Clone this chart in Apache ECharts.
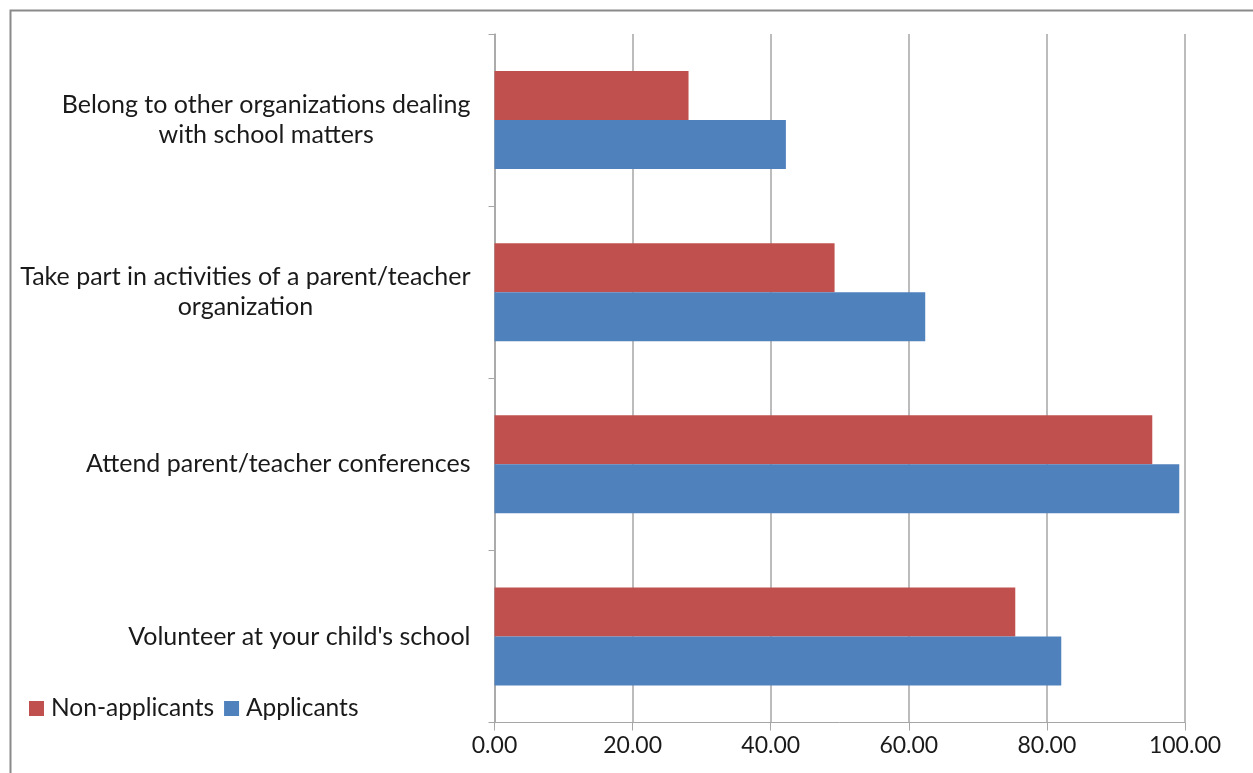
<!DOCTYPE html>
<html>
<head>
<meta charset="utf-8">
<script src="https://cdn.jsdelivr.net/npm/echarts@6/dist/echarts.min.js"></script>
<style>
  html, body { margin: 0; padding: 0; background: #fff; }
  #chart { width: 1253px; height: 773px; }
</style>
</head>
<body>
<div id="chart"></div>
<script>
// Survey activities, listed bottom to top along the category axis
const categories = [
  "Volunteer at your child's school",
  'Attend parent/teacher conferences',
  'Take part in activities of a parent/teacher\norganization',
  'Belong to other organizations dealing\nwith school matters'
];
const nonApplicants = [75.42, 95.26, 49.25, 28.1];
const applicants = [82.08, 99.17, 62.38, 42.2];
const seriesNames = ['Non-applicants', 'Applicants'];

const FONT = 'Lato';
const chart = echarts.init(document.getElementById('chart'), null, { renderer: 'canvas' });

chart.setOption({
  animation: false,
  backgroundColor: '#ffffff',
  graphic: [{
    type: 'rect',
    left: 8, top: 8,
    shape: { width: 1400, height: 900 },
    style: { fill: 'none', stroke: '#8a8a8a', lineWidth: 2 },
    silent: true
  }],
  grid: { left: 494.5, right: 68, top: 34, bottom: 50.5, containLabel: false },
  legend: {
    data: seriesNames,
    left: 24, top: 691,
    itemWidth: 15, itemHeight: 15, itemGap: 10,
    icon: 'rect',
    textStyle: { fontFamily: FONT, fontSize: 24.5, color: '#1a1a1a', padding: [0, 0, 0, 2] }
  },
  xAxis: {
    type: 'value',
    min: 0, max: 100, interval: 20,
    axisLine: { show: true, lineStyle: { color: '#a6a6a6', width: 1 } },
    axisTick: { show: true, length: 8, lineStyle: { color: '#a6a6a6' } },
    splitLine: { show: true, lineStyle: { color: '#a6a6a6', width: 1.5 } },
    axisLabel: {
      fontFamily: FONT, fontSize: 23, color: '#1a1a1a', margin: 12,
      formatter: v => v.toFixed(2)
    }
  },
  yAxis: {
    type: 'category',
    data: categories,
    axisLine: { show: true, lineStyle: { color: '#a6a6a6', width: 1.5 } },
    axisTick: { show: true, length: 6, lineStyle: { color: '#a6a6a6' } },
    axisLabel: {
      margin: 24,
      formatter: v => v.split('\n').map(s => '{c|' + s + '}').join('\n'),
      rich: {
        c: { fontFamily: FONT, fontSize: 25, color: '#1a1a1a', align: 'center', lineHeight: 30 }
      }
    }
  },
  series: [
    {
      name: 'Non-applicants', type: 'bar', data: nonApplicants,
      barGap: '0%', barCategoryGap: '43%',
      itemStyle: { color: '#c0504d' }
    },
    {
      name: 'Applicants', type: 'bar', data: applicants,
      barGap: '0%', barCategoryGap: '43%',
      itemStyle: { color: '#4f81bd' }
    }
  ]
});
</script>
</body>
</html>
